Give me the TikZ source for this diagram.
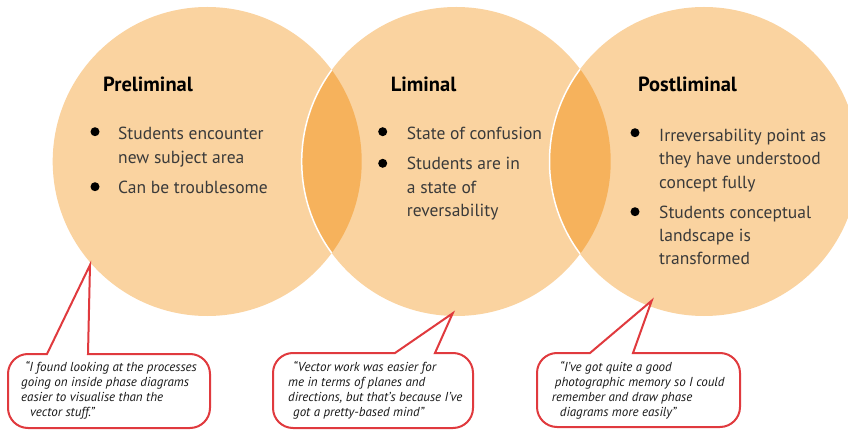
\documentclass[tikz,border=0pt]{standalone}
\usepackage{fontspec}
\setmainfont{PT Sans}
\definecolor{peach}{HTML}{FAD3A0}
\definecolor{lensorange}{HTML}{F6B25C}
\definecolor{calloutred}{HTML}{E03A3E}
\definecolor{bodygray}{HTML}{3A3A3A}
\begin{document}
\begin{tikzpicture}[x=1pt,y=-1pt,
  title/.style={font=\fontsize{20.5}{24}\selectfont\bfseries, anchor=base west, inner sep=0pt, text=black},
  item/.style={font=\fontsize{17.5}{23.3}\selectfont, anchor=base west, inner sep=0pt, align=left, text=bodygray},
  dot/.style={circle, fill=black, inner sep=0pt, minimum size=9pt},
  quote/.style={font=\fontsize{13}{15}\selectfont\itshape, anchor=base west, inner sep=0pt, align=left, text=black!90},
  callout/.style={draw=calloutred, line width=2pt, fill=white, line join=miter}
]
\useasboundingbox (0,0) rectangle (848,430);
\clip (0,0) rectangle (848,430);

% the three phases
\coordinate (c1) at (207.2,161.5);
\coordinate (c2) at (456.2,161.5);
\coordinate (c3) at (704,161.5);
\def\R{154.5}
\fill[peach] (c1) circle (\R);
\fill[peach] (c2) circle (\R);
\fill[peach] (c3) circle (\R);
% overlaps
\begin{scope}
  \clip (c1) circle (\R);
  \fill[lensorange] (c2) circle (\R);
  \draw[white, line width=1.5pt] (c2) circle (\R);
\end{scope}
\begin{scope}
  \clip (c2) circle (\R);
  \fill[lensorange] (c3) circle (\R);
  \draw[white, line width=1.5pt] (c3) circle (\R);
\end{scope}

% titles
\node[title] (t1) at (103,92) {Preliminal};
\node[title] (t2) at (390.7,91.7) {Liminal};
\node[title] (t3) at (638,92) {Postliminal};

% bullet points (multi-line nodes are anchored at their last baseline)
\node[dot] (d1a) at (95,131.7) {};
\node[item] (i1a) at (118,163.3) {Students encounter\\new subject area};
\node[dot] (d1b) at (95,186.7) {};
\node[item] (i1b) at (118,193.3) {Can be troublesome};

\node[dot] (d2a) at (382.7,131.7) {};
\node[item] (i2a) at (406.7,139.3) {State of confusion};
\node[dot] (d2b) at (382.7,163.3) {};
\node[item] (i2b) at (406.7,216.6) {Students are in\\a state of\\reversability};

\node[dot] (d3a) at (635,132.7) {};
\node[item] (i3a) at (659,188.3) {Irreversability point as\\they have understood\\concept fully};
\node[dot] (d3b) at (635,211.7) {};
\node[item] (i3b) at (659,264.9) {Students conceptual\\landscape is\\transformed};

% speech bubbles
\coordinate (p1) at (90,265);
\draw[callout] (p1) -- (47,354) [rounded corners=20pt] -- (8,354) -- (8,428) -- (210,428) -- (210,354) [sharp corners] -- (88,354) -- cycle;
\node[quote] (q1) at (21,416.7) {\hspace*{4pt}“I found looking at the processes\\going on inside phase diagrams\\easier to visualise than the\\\hspace*{9pt}vector stuff.”};

\coordinate (p2) at (452.7,313.3);
\draw[callout] (p2) -- (395,353) [rounded corners=20pt] -- (273,353) -- (273,428) -- (473,428) -- (473,353) [sharp corners] -- (435,353) -- cycle;
\node[quote] (q2) at (288,416) {\hspace*{5pt}“Vector work was easier for\\me in terms of planes and\\directions, but that’s because I’ve\\\hspace*{5pt}got a pretty-based mind”};

\coordinate (p3) at (651.7,300.7);
\draw[callout] (p3) -- (590,353) [rounded corners=20pt] -- (537,353) -- (537,427) -- (740,427) -- (740,353) [sharp corners] -- (633,353) -- cycle;
\node[quote] (q3) at (551.7,416) {\hspace*{8pt}“I’ve got quite a good\\\hspace*{3pt}photographic memory so I could\\remember and draw phase\\\hspace*{8pt}diagrams more easily”};
\end{tikzpicture}
\end{document}
